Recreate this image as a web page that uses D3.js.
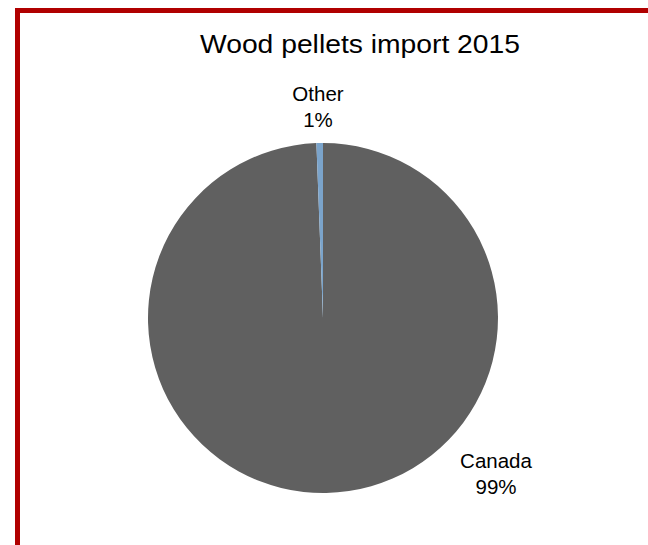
<!DOCTYPE html>
<html><head><meta charset="utf-8">
<script src="https://cdn.jsdelivr.net/npm/d3@7"></script>
<style>body{margin:0;background:#fff}svg{display:block}</style>
</head><body>
<svg id="c" width="648" height="545"></svg>
<script>
const title = "Wood pellets import 2015";
const categories = ["Canada", "Other"];
const values = [99.4, 0.6];
const labels = ["99%", "1%"];
const colors = ["#606060", "#7BA4CB"];

const svg = d3.select("#c");
// red frame (top and left visible)
svg.append("rect").attr("x", 17.5).attr("y", 10.5).attr("width", 700).attr("height", 700)
  .attr("fill", "none").attr("stroke", "#B00000").attr("stroke-width", 5);

svg.append("text").attr("x", 360).attr("y", 53).attr("text-anchor", "middle")
  .attr("font-family", "Liberation Sans, Arial, sans-serif").attr("font-size", 25)
  .attr("textLength", 320).attr("lengthAdjust", "spacingAndGlyphs")
  .attr("fill", "#000").text(title);

const cx = 323, cy = 318, r = 175;
const data = categories.map((c, i) => ({cat: c, value: values[i], label: labels[i], color: colors[i]}));
const pie = d3.pie().sort(null).value(d => d.value);
const arc = d3.arc().innerRadius(0).outerRadius(r);
const g = svg.append("g").attr("transform", `translate(${cx},${cy})`);
const arcs = pie(data);
g.selectAll("path").data(arcs).join("path").attr("d", arc).attr("fill", d => d.data.color);

// label positions relative to slice midpoint angle
const labelPos = [{x: 496, y: 468}, {x: 318, y: 101}];
const lg = svg.append("g").attr("font-family", "Liberation Sans, Arial, sans-serif")
  .attr("font-size", 20.5).attr("fill", "#000").attr("text-anchor", "middle");
arcs.forEach((a, i) => {
  const t = lg.append("text").attr("x", labelPos[i].x).attr("y", labelPos[i].y);
  t.append("tspan").attr("x", labelPos[i].x).text(a.data.cat);
  t.append("tspan").attr("x", labelPos[i].x).attr("dy", 25.5).text(a.data.label);
});
</script>
</body></html>
